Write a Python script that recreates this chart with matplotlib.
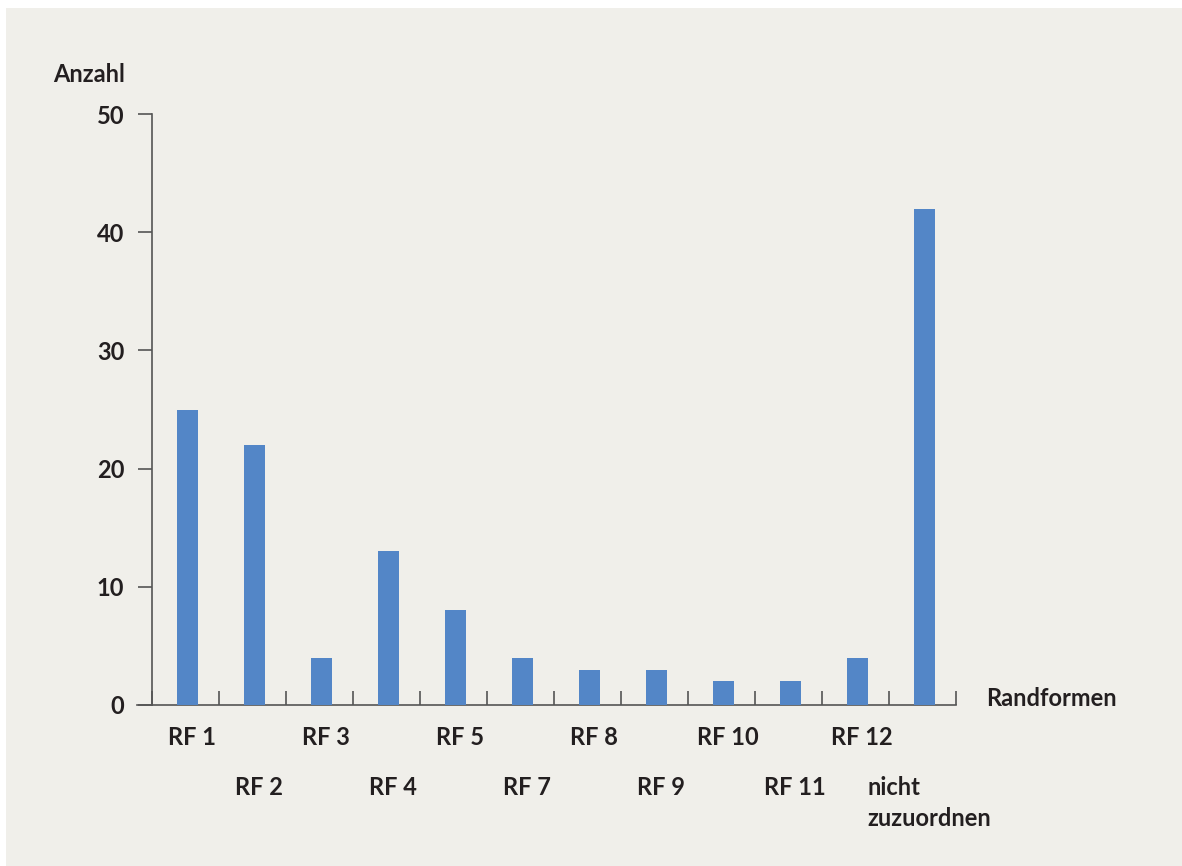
import matplotlib
matplotlib.use("Agg")
import matplotlib.pyplot as plt
import matplotlib.transforms as mtransforms
from matplotlib.patches import Rectangle
import numpy as np

categories = ["RF 1", "RF 2", "RF 3", "RF 4", "RF 5", "RF 7", "RF 8",
              "RF 9", "RF 10", "RF 11", "RF 12", "nicht\nzuzuordnen"]
counts = [25, 22, 4, 13, 8, 4, 3, 3, 2, 2, 4, 42]
yticks = [0, 10, 20, 30, 40, 50]

bg = "#f0efea"
bar_col = "#5386c7"
axis_col = "#555555"
txt_col = "#231f20"
fs = 17

plt.rcParams["font.family"] = ["Lato", "DejaVu Sans"]
plt.rcParams["font.weight"] = "bold"

fig = plt.figure(figsize=(11.82, 8.66), dpi=100)
fig.patch.set_facecolor("white")
fig.patches.append(Rectangle((6 / 1182, 0), 1, 1 - 8 / 866, transform=fig.transFigure,
                             facecolor=bg, edgecolor="none", zorder=-10))

ax = fig.add_axes([152 / 1182, 1 - 705 / 866, (956 - 152) / 1182, (705 - 114) / 866])
ax.set_facecolor("none")

x = np.arange(len(categories))
ax.bar(x + 0.03, counts, width=0.31, color=bar_col, zorder=3)

ax.set_xlim(-0.5, len(categories) - 0.5)
ax.set_ylim(0, 50)

for s in ["top", "right"]:
    ax.spines[s].set_visible(False)
for s in ["left", "bottom"]:
    ax.spines[s].set_color(axis_col)
    ax.spines[s].set_linewidth(1.2)

ax.set_yticks(yticks)
ax.set_yticklabels([str(v) for v in yticks])
ax.tick_params(axis="y", direction="out", length=10, width=1.2, color=axis_col,
               pad=10, labelsize=fs, labelcolor=txt_col)
ax.set_xticks(np.arange(len(categories) + 1) - 0.5)
ax.set_xticklabels([])
ax.tick_params(axis="x", direction="in", length=10, width=1.2, color=axis_col)
for lab in ax.get_yticklabels():
    lab.set_fontweight("bold")

# x axis line runs a little past the y axis on the left
ax.plot([-0.72, -0.5], [0, 0], color=axis_col, lw=1.2, clip_on=False)

trans = mtransforms.blended_transform_factory(ax.transData, ax.transAxes)
for i, lab in enumerate(categories):
    ypos = -0.035 if i % 2 == 0 else -0.120
    ax.text(i + 0.1, ypos, lab, transform=trans, ha="center", va="top",
            fontsize=fs, fontweight="bold", color=txt_col,
            multialignment="left", linespacing=1.45)

fig.text(125 / 1182, 1 - 75 / 866, "Anzahl", ha="right", va="center",
         fontsize=fs, fontweight="bold", color=txt_col)
fig.text(986 / 1182, 1 - 698 / 866, "Randformen", ha="left", va="center",
         fontsize=fs, fontweight="bold", color=txt_col)

fig.savefig("out.png", dpi=100, facecolor=fig.get_facecolor())
